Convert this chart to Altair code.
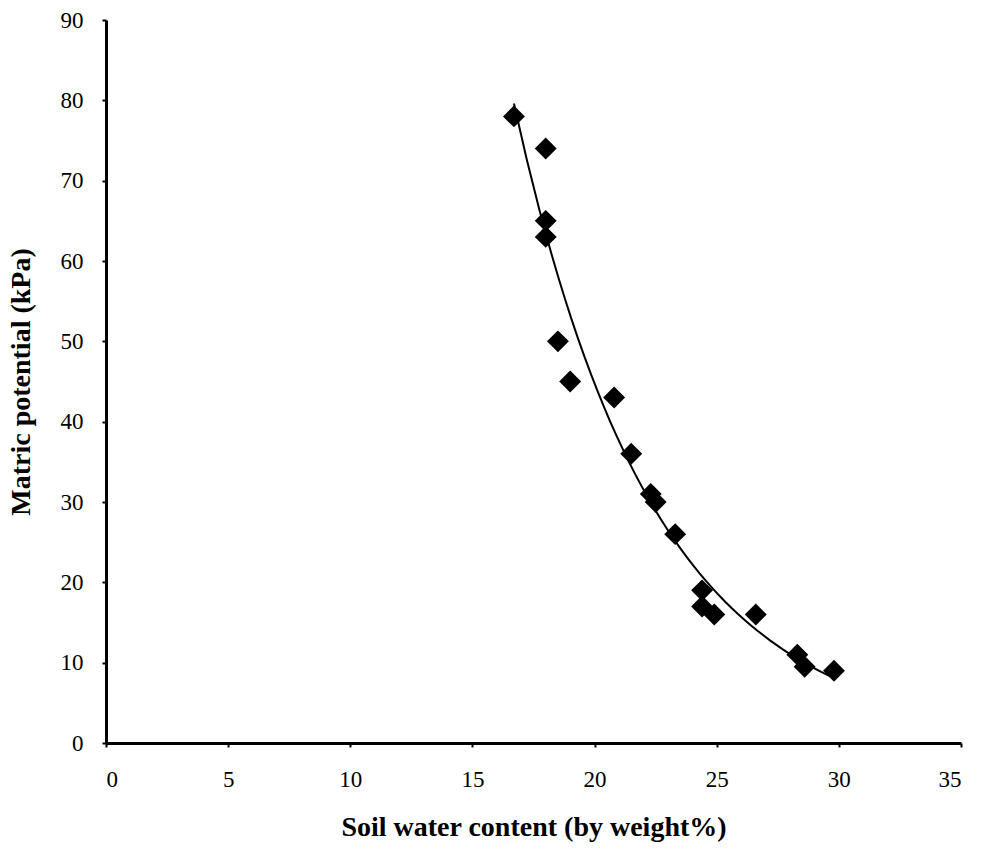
import altair as alt
import pandas as pd

water = [16.7, 18.0, 18.0, 18.0, 18.5, 19.0, 20.8, 21.5, 22.3, 22.5, 23.3, 24.4, 24.4, 24.9, 26.6, 28.3, 28.6, 29.8]
potential = [78, 74, 65, 63, 50, 45, 43, 36, 31, 30, 26, 19, 17, 16, 16, 11, 9.5, 9]

df = pd.DataFrame({"x": water, "y": potential})

FONT = "Liberation Serif"

xenc = alt.X("x:Q", scale=alt.Scale(domain=[0, 35], nice=False, zero=True),
             axis=alt.Axis(title="Soil water content (by weight%)", values=list(range(0, 36, 5)),
                           grid=False, domainColor="black", domainWidth=3, tickColor="black",
                           tickSize=4, tickWidth=2, labelFontSize=23, labelFont=FONT,
                           labelColor="black", labelPadding=21, titleFont=FONT, titleFontSize=28,
                           titleFontWeight="bold", titleColor="black", titlePadding=22))
yenc = alt.Y("y:Q", scale=alt.Scale(domain=[0, 90], nice=False),
             axis=alt.Axis(title="Matric potential (kPa)", values=list(range(0, 91, 10)),
                           grid=False, domainColor="black", domainWidth=3, tickColor="black",
                           tickSize=4, tickWidth=2, labelFontSize=23, labelFont=FONT,
                           labelColor="black", labelPadding=19, titleFont=FONT, titleFontSize=28,
                           titleFontWeight="bold", titleColor="black", titlePadding=25))

points = alt.Chart(df).mark_point(shape="diamond", filled=True, color="black", size=480, opacity=1).encode(
    x=xenc, y=yenc)

trend = alt.Chart(df).transform_regression("x", "y", method="exp").mark_line(
    color="black", strokeWidth=2).encode(x="x:Q", y="y:Q")

chart = alt.layer(trend, points).properties(
    width=855, height=723,
    padding={"left": 106, "top": 20, "right": 20, "bottom": 106},
    autosize=alt.AutoSizeParams(type="none"),
    background="white",
).configure_view(stroke=None)

chart.save("out.html", embed_options={"renderer": "svg", "actions": False})
